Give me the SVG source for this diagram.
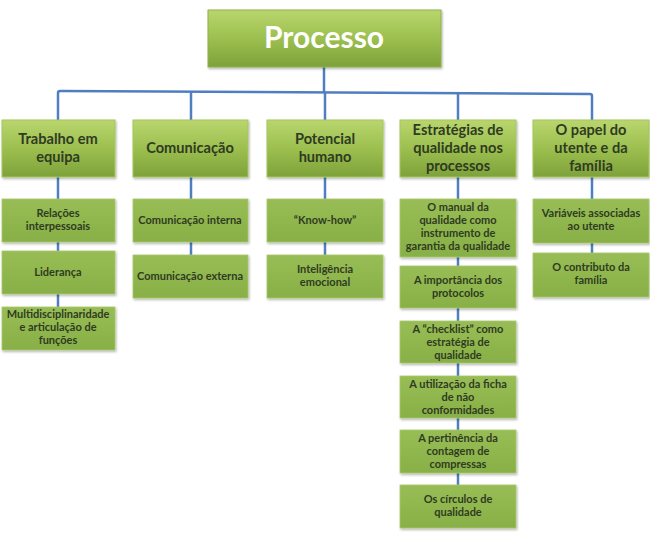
<svg xmlns="http://www.w3.org/2000/svg" width="650" height="538" viewBox="0 0 650 538">
<defs>
<linearGradient id="g1" x1="0" y1="0" x2="0" y2="1">
<stop offset="0" stop-color="#b9d66e"/>
<stop offset="0.5" stop-color="#9cbf4f"/>
<stop offset="1" stop-color="#7ea23a"/>
</linearGradient>
<linearGradient id="g2" x1="0" y1="0" x2="0" y2="1">
<stop offset="0" stop-color="#98bd55"/>
<stop offset="1" stop-color="#88b047"/>
</linearGradient>
<filter id="sh" x="-10%" y="-10%" width="120%" height="130%">
<feDropShadow dx="1" dy="1.5" stdDeviation="1.2" flood-color="#000" flood-opacity="0.3"/>
</filter>
</defs>
<style>
.top{fill:url(#g1);stroke:#8fb24a;stroke-width:1;filter:url(#sh)}
.l1{fill:url(#g1);stroke:#a6c65e;stroke-width:1;filter:url(#sh)}
.l2{fill:url(#g2);stroke:#a9c96a;stroke-width:0.8;filter:url(#sh)}
.t0{font-family:Lato,"Liberation Sans",sans-serif;font-size:30px;font-weight:bold;fill:#ffffff;text-anchor:middle}
.t1{font-family:Lato,"Liberation Sans",sans-serif;font-size:14.6px;font-weight:bold;fill:#2f3b22;text-anchor:middle}
.t2{font-family:Lato,"Liberation Sans",sans-serif;font-size:11px;font-weight:bold;fill:#2f3b22;text-anchor:middle}
.c{fill:none;stroke:#4f7fc0;stroke-width:2.5}
</style>
<rect width="650" height="538" fill="#ffffff"/>
<g id="connectors">
<path class="c" d="M324 67 V92"/>
<path class="c" d="M58 120 V93 Q58 91 60 91 L590 94 Q592 94 592 96 V120"/>
<path class="c" d="M191 92 V120"/>
<path class="c" d="M325 92 V120"/>
<path class="c" d="M458 92 V120"/>
<path class="c" d="M58 177 V307"/>
<path class="c" d="M191 177 V255"/>
<path class="c" d="M325 177 V255"/>
<path class="c" d="M458 177 V485"/>
<path class="c" d="M592 177 V253"/>
</g>
<g id="processo"><rect class="top" x="208" y="10" width="233" height="57"/><text class="t0" x="324" y="48">Processo</text></g>
<g id="trabalho"><rect class="l1" x="2" y="120" width="113" height="57"/><text class="t1" x="58" y="144">Trabalho em</text><text class="t1" x="58" y="162">equipa</text></g>
<g id="comunicacao"><rect class="l1" x="133" y="120" width="115" height="57"/><text class="t1" x="190" y="153">Comunicação</text></g>
<g id="potencial"><rect class="l1" x="267" y="120" width="116" height="57"/><text class="t1" x="325" y="144">Potencial</text><text class="t1" x="325" y="162">humano</text></g>
<g id="estrategias"><rect class="l1" x="400" y="120" width="116" height="57"/><text class="t1" x="458" y="135">Estratégias de</text><text class="t1" x="458" y="153">qualidade  nos</text><text class="t1" x="458" y="171">processos</text></g>
<g id="papel"><rect class="l1" x="533" y="120" width="116" height="57"/><text class="t1" x="591" y="135">O papel do</text><text class="t1" x="591" y="153">utente e da</text><text class="t1" x="591" y="171">família</text></g>
<g id="relacoes"><rect class="l2" x="2" y="199" width="113" height="43"/><text class="t2" x="58" y="217">Relações</text><text class="t2" x="58" y="230">interpessoais</text></g>
<g id="lideranca"><rect class="l2" x="2" y="251" width="113" height="43"/><text class="t2" x="58" y="276">Liderança</text></g>
<g id="multi"><rect class="l2" x="2" y="307" width="113" height="43"/><text class="t2" x="58" y="318">Multidisciplinaridade</text><text class="t2" x="58" y="331">e articulação de</text><text class="t2" x="58" y="344">funções</text></g>
<g id="cinterna"><rect class="l2" x="133" y="199" width="115" height="43"/><text class="t2" x="190" y="224">Comunicação interna</text></g>
<g id="cexterna"><rect class="l2" x="133" y="255" width="115" height="43"/><text class="t2" x="190" y="280">Comunicação externa</text></g>
<g id="knowhow"><rect class="l2" x="267" y="199" width="116" height="43"/><text class="t2" x="325" y="224">“Know-how”</text></g>
<g id="inteligencia"><rect class="l2" x="267" y="255" width="116" height="43"/><text class="t2" x="325" y="273">Inteligência</text><text class="t2" x="325" y="286">emocional</text></g>
<g id="manual"><rect class="l2" x="400" y="199" width="116" height="58"/><text class="t2" x="458" y="211">O manual da</text><text class="t2" x="458" y="224">qualidade como</text><text class="t2" x="458" y="237">instrumento de</text><text class="t2" x="458" y="250">garantia da qualidade</text></g>
<g id="importancia"><rect class="l2" x="400" y="266" width="116" height="42"/><text class="t2" x="458" y="284">A importância dos</text><text class="t2" x="458" y="297">protocolos</text></g>
<g id="checklist"><rect class="l2" x="400" y="321" width="116" height="42"/><text class="t2" x="458" y="333">A “checklist” como</text><text class="t2" x="458" y="346">estratégia de</text><text class="t2" x="458" y="359">qualidade</text></g>
<g id="utilizacao"><rect class="l2" x="400" y="376" width="116" height="42"/><text class="t2" x="458" y="388">A utilização da ficha</text><text class="t2" x="458" y="401">de não</text><text class="t2" x="458" y="414">conformidades</text></g>
<g id="pertinencia"><rect class="l2" x="400" y="430" width="116" height="43"/><text class="t2" x="458" y="442">A pertinência da</text><text class="t2" x="458" y="455">contagem de</text><text class="t2" x="458" y="468">compressas</text></g>
<g id="circulos"><rect class="l2" x="400" y="485" width="116" height="43"/><text class="t2" x="458" y="503">Os círculos de</text><text class="t2" x="458" y="516">qualidade</text></g>
<g id="variaveis"><rect class="l2" x="533" y="199" width="116" height="44"/><text class="t2" x="591" y="217">Variáveis associadas</text><text class="t2" x="591" y="230">ao utente</text></g>
<g id="contributo"><rect class="l2" x="533" y="253" width="116" height="44"/><text class="t2" x="591" y="271">O contributo da</text><text class="t2" x="591" y="284">família</text></g>
</svg>
